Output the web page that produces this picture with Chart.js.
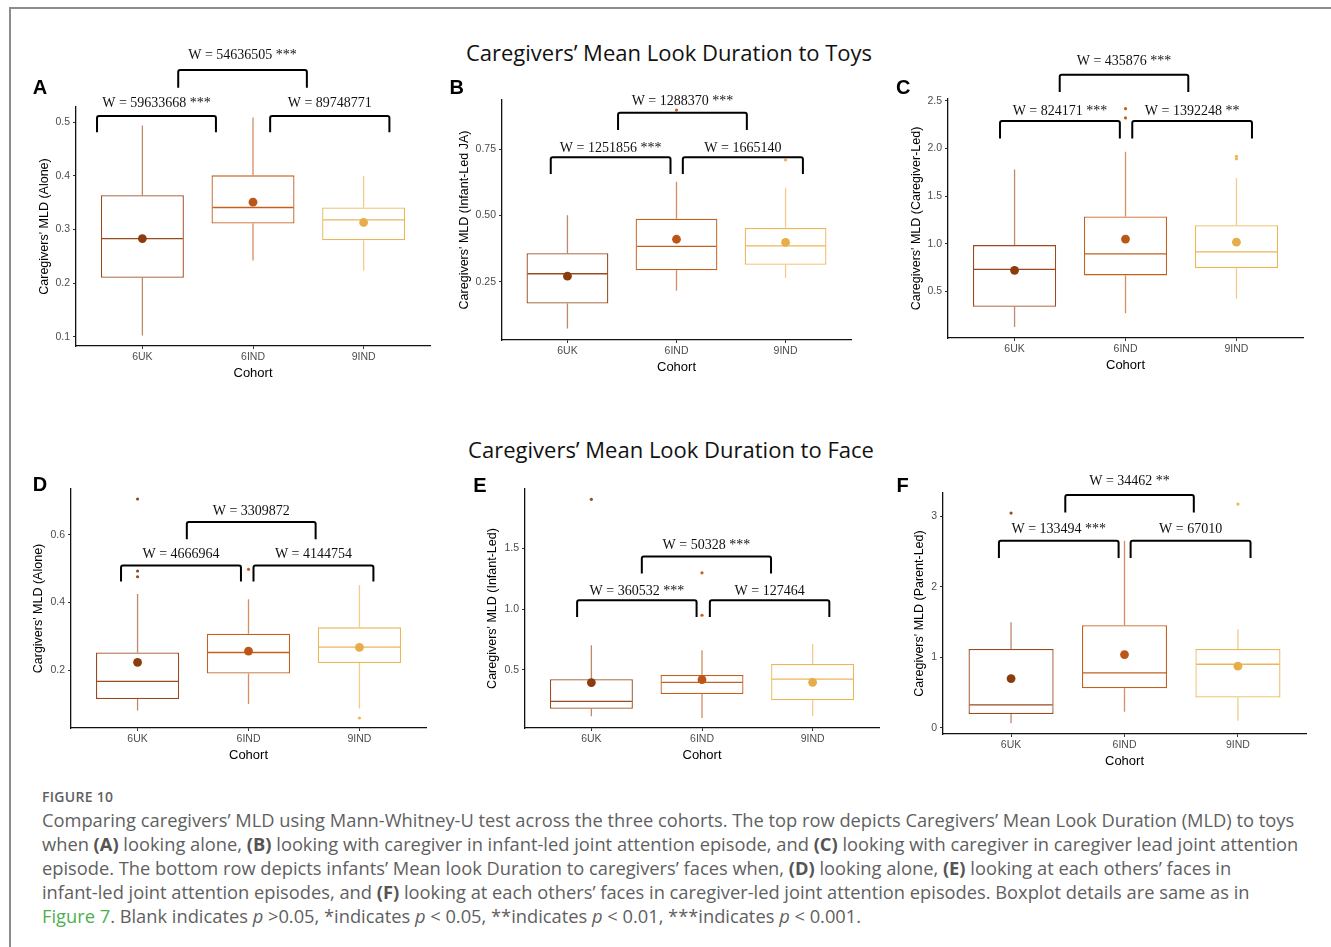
<!DOCTYPE html>
<html>
<head>
<meta charset="utf-8">
<script src="https://cdn.jsdelivr.net/npm/chart.js@4.4.1/dist/chart.umd.min.js"></script>
<style>
  body { margin: 0; width: 1331px; height: 947px; overflow: hidden; position: relative; background: #fff; font-family: "Open Sans", sans-serif; }
  .frame { position: absolute; left: 9px; top: 7px; right: -20px; bottom: -20px; border-left: 2px solid #8c8c8c; border-top: 2px solid #8c8c8c; }
  .panel { position: absolute; }
  .letter { position: absolute; font: bold 20px "Liberation Sans", sans-serif; transform: translate(-50%, -50%); line-height: 1; }
  .rowtitle { position: absolute; font-size: 22px; transform: translate(-50%, -50%); white-space: nowrap; color: #111; line-height: 1; }
  .caption { position: absolute; left: 42px; top: 785px; color: #5f5f5f; white-space: nowrap; }
  .caption .fig { font-size: 14px; font-weight: 600; line-height: 23px; letter-spacing: 0.3px; }
  .caption .line { font-size: 18.3px; line-height: 24px; }
  .caption b { font-weight: 700; color: #555; }
  .caption .link { color: #4caf50; }
</style>
</head>
<body>
<div class="frame"></div>

<div class="rowtitle" style="left:669px;top:52px">Caregivers’ Mean Look Duration to Toys</div>
<div class="rowtitle" style="left:671px;top:449px">Caregivers’ Mean Look Duration to Face</div>

<div class="caption">
  <div class="fig">FIGURE 10</div>
  <div class="line">Comparing caregivers’ MLD using Mann-Whitney-U test across the three cohorts. The top row depicts Caregivers’ Mean Look Duration (MLD) to toys</div>
  <div class="line">when <b>(A)</b> looking alone, <b>(B)</b> looking with caregiver in infant-led joint attention episode, and <b>(C)</b> looking with caregiver in caregiver lead joint attention</div>
  <div class="line">episode. The bottom row depicts infants’ Mean look Duration to caregivers’ faces when, <b>(D)</b> looking alone, <b>(E)</b> looking at each others’ faces in</div>
  <div class="line">infant-led joint attention episodes, and <b>(F)</b> looking at each others’ faces in caregiver-led joint attention episodes. Boxplot details are same as in</div>
  <div class="line"><span class="link">Figure 7</span>. Blank indicates <i>p</i> &gt;0.05, *indicates <i>p</i> &lt; 0.05, **indicates <i>p</i> &lt; 0.01, ***indicates <i>p</i> &lt; 0.001.</div>
</div>

<script>
"use strict";

// data ---------------------------------------------------------------
// panel order: A, B, C, D, E, F ; inner order: 6UK, 6IND, 9IND
const cohorts = ["6UK", "6IND", "9IND"];
const panelLetters = ["A", "B", "C", "D", "E", "F"];

const whiskerLow = [
  [0.102, 0.242, 0.223],
  [0.074, 0.216, 0.264],
  [0.126, 0.269, 0.423],
  [0.082, 0.101, 0.088],
  [0.118, 0.104, 0.12],
  [0.062, 0.228, 0.1],
];
const q1 = [
  [0.21, 0.311, 0.28],
  [0.168, 0.293, 0.314],
  [0.339, 0.668, 0.744],
  [0.116, 0.191, 0.222],
  [0.181, 0.302, 0.25],
  [0.195, 0.56, 0.427],
];
const median = [
  [0.283, 0.341, 0.318],
  [0.28, 0.383, 0.385],
  [0.731, 0.895, 0.916],
  [0.168, 0.253, 0.269],
  [0.241, 0.398, 0.425],
  [0.323, 0.778, 0.901],
];
const q3 = [
  [0.364, 0.401, 0.341],
  [0.357, 0.487, 0.453],
  [0.986, 1.287, 1.195],
  [0.253, 0.308, 0.327],
  [0.423, 0.458, 0.549],
  [1.119, 1.456, 1.119],
];
const whiskerHigh = [
  [0.494, 0.509, 0.4],
  [0.5, 0.627, 0.604],
  [1.78, 1.968, 1.688],
  [0.425, 0.41, 0.452],
  [0.703, 0.662, 0.714],
  [1.498, 2.655, 1.399],
];
const means = [
  [0.283, 0.351, 0.313],
  [0.271, 0.41, 0.398],
  [0.721, 1.049, 1.017],
  [0.224, 0.257, 0.268],
  [0.396, 0.42, 0.398],
  [0.697, 1.038, 0.873],
];
// [cohort index, value]
const outliers = [
  [],
  [[1, 0.897], [2, 0.709]],
  [[1, 2.419], [1, 2.322], [2, 1.919], [2, 1.892]],
  [[0, 0.705], [0, 0.493], [0, 0.476], [1, 0.498], [2, 0.06]],
  [[0, 1.904], [1, 1.299], [1, 0.95]],
  [[0, 3.048], [2, 3.176]],
];
// Mann-Whitney results: 6UK-6IND, 6IND-9IND, 6UK-9IND
const testLabels = [
  ["W = 59633668 ***", "W = 89748771", "W = 54636505 ***"],
  ["W = 1251856 ***", "W = 1665140", "W = 1288370 ***"],
  ["W = 824171 ***", "W = 1392248 **", "W = 435876 ***"],
  ["W = 4666964", "W = 4144754", "W = 3309872"],
  ["W = 360532 ***", "W = 127464", "W = 50328 ***"],
  ["W = 133494 ***", "W = 67010", "W = 34462 **"],
];
const yTitles = [
  "Caregivers' MLD (Alone)",
  "Caregivers' MLD (Infant-Led JA)",
  "Caregivers' MLD (Caregiver-Led)",
  "Cargivers' MLD (Alone)",
  "Caregivers' MLD (Infant-Led)",
  "Caregivers' MLD (Parent-Led)",
];
const yTickValues = [
  [0.1, 0.2, 0.3, 0.4, 0.5],
  [0.25, 0.5, 0.75],
  [0.5, 1, 1.5, 2, 2.5],
  [0.2, 0.4, 0.6],
  [0.5, 1, 1.5],
  [0, 1, 2, 3],
];
const yTickLabels = [
  ["0.1", "0.2", "0.3", "0.4", "0.5"],
  ["0.25", "0.50", "0.75"],
  ["0.5", "1.0", "1.5", "2.0", "2.5"],
  ["0.2", "0.4", "0.6"],
  ["0.5", "1.0", "1.5"],
  ["0", "1", "2", "3"],
];

// layout -------------------------------------------------------------
// plot area in page pixels, y range, distance axis -> y title centre
const frames = [
  { L: 75.7, R: 430, T: 107, B: 346, ymin: 0.0826, ymax: 0.5285, gap: 31.7, lx: 40, ly: 87 },
  { L: 502.3, R: 851, T: 100, B: 340, ymin: 0.0303, ymax: 0.9347, gap: 37.3, lx: 456.7, ly: 87 },
  { L: 947.7, R: 1302.5, T: 99.3, B: 338.7, ymin: 0.0102, ymax: 2.521, gap: 31, lx: 903.3, ly: 87 },
  { L: 71, R: 425.5, T: 489, B: 728.3, ymin: 0.0306, ymax: 0.7344, gap: 32.7, lx: 40, ly: 484 },
  { L: 525.3, R: 879.6, T: 489, B: 727.7, ymin: 0.022, ymax: 1.989, gap: 32, lx: 480, ly: 485 },
  { L: 943, R: 1306, T: 493.3, B: 734, ymin: -0.0896, ymax: 3.333, gap: 23, lx: 902.7, ly: 485 },
];
// brackets: [x from, x to, y top, y leg end, y label] in axis units
const brackets = [
  [[0.59, 1.665, 0.5118, 0.4813, 0.536], [2.155, 3.233, 0.5118, 0.4813, 0.536], [1.324, 2.487, 0.5976, 0.5646, 0.624]],
  [[0.847, 1.945, 0.7187, 0.6558, 0.754], [2.058, 3.159, 0.7187, 0.6558, 0.754], [1.464, 2.645, 0.8868, 0.8216, 0.928]],
  [[0.869, 1.949, 2.29, 2.105, 2.391], [2.061, 3.14, 2.29, 2.105, 2.391], [1.407, 2.566, 2.776, 2.594, 2.912]],
  [[0.851, 1.932, 0.5088, 0.4618, 0.543], [2.045, 3.126, 0.5088, 0.4618, 0.543], [1.444, 2.605, 0.6374, 0.5865, 0.6676]],
  [[0.871, 1.951, 1.074, 0.936, 1.148], [2.071, 3.151, 1.074, 0.936, 1.148], [1.456, 2.624, 1.434, 1.294, 1.527]],
  [[0.893, 1.948, 2.655, 2.409, 2.811], [2.054, 3.111, 2.655, 2.409, 2.811], [1.478, 2.611, 3.304, 3.057, 3.503]],
];

const lineColors = ["#9b4a1e", "#c2601f", "#ebb658"];
const whiskerColors = ["rgba(155,74,30,0.65)", "rgba(194,96,31,0.7)", "rgba(235,182,88,0.7)"];
const meanColors = ["#8b3c0e", "#bd5418", "#e6ad4b"];

const YW = 75; // y axis box width
const PT = 75; // room above plot for brackets
const PR = 6;
const XH = 42; // x axis box height

Chart.defaults.font.family = "Liberation Sans";
Chart.defaults.animation = false;

// boxplot whiskers + medians, drawn right after the boxes
const boxPlugin = {
  id: "boxExtras",
  afterDatasetDraw(chart, args) {
    if (args.index !== 0) return;
    const p = chart.options.plugins.boxExtras.panel;
    const { ctx, scales } = chart;
    const x = scales.x, y = scales.y;
    const half = (x.getPixelForValue(1.375) - x.getPixelForValue(0.625)) / 2;
    ctx.save();
    ctx.lineWidth = 1.3;
    cohorts.forEach((c, k) => {
      const px = x.getPixelForValue(k + 1);
      ctx.strokeStyle = whiskerColors[k];
      ctx.beginPath();
      ctx.moveTo(px, y.getPixelForValue(q3[p][k]));
      ctx.lineTo(px, y.getPixelForValue(whiskerHigh[p][k]));
      ctx.moveTo(px, y.getPixelForValue(q1[p][k]));
      ctx.lineTo(px, y.getPixelForValue(whiskerLow[p][k]));
      ctx.stroke();
      ctx.strokeStyle = lineColors[k];
      ctx.beginPath();
      const my = y.getPixelForValue(median[p][k]);
      ctx.moveTo(px - half + 1, my);
      ctx.lineTo(px + half - 1, my);
      ctx.stroke();
    });
    ctx.restore();
  },
  afterDraw(chart) {
    const p = chart.options.plugins.boxExtras.panel;
    const { ctx, scales } = chart;
    const x = scales.x, y = scales.y;
    ctx.save();
    ctx.strokeStyle = "#000";
    ctx.lineWidth = 2;
    ctx.lineJoin = "round";
    ctx.fillStyle = "#111";
    ctx.font = "14px 'Liberation Serif'";
    ctx.textAlign = "center";
    ctx.textBaseline = "middle";
    brackets[p].forEach((b, j) => {
      const x1 = x.getPixelForValue(b[0]);
      const x2 = x.getPixelForValue(b[1]);
      const yt = y.getPixelForValue(b[2]);
      const yl = y.getPixelForValue(b[3]);
      ctx.beginPath();
      ctx.moveTo(x1, yl);
      ctx.lineTo(x1, yt + 2);
      ctx.quadraticCurveTo(x1, yt, x1 + 2, yt);
      ctx.lineTo(x2 - 2, yt);
      ctx.quadraticCurveTo(x2, yt, x2, yt + 2);
      ctx.lineTo(x2, yl);
      ctx.stroke();
      ctx.fillText(testLabels[p][j], (x1 + x2) / 2, y.getPixelForValue(b[4]));
    });
    ctx.restore();
  },
};

function createPanel(p) {
  const f = frames[p];
  const canvas = document.createElement("canvas");
  const w = Math.round(f.R - f.L + YW + PR);
  const h = Math.round(f.B - f.T + PT + XH);
  canvas.width = w;
  canvas.height = h;
  canvas.className = "panel";
  canvas.style.left = f.L - YW + "px";
  canvas.style.top = f.T - PT + "px";
  document.body.appendChild(canvas);

  const letter = document.createElement("div");
  letter.className = "letter";
  letter.textContent = panelLetters[p];
  letter.style.left = f.lx + "px";
  letter.style.top = f.ly + "px";
  document.body.appendChild(letter);

  const titleSize = 12.5;
  new Chart(canvas, {
    type: "bar",
    data: {
      datasets: [
        {
          type: "bar",
          data: cohorts.map((c, k) => ({ x: k + 1, y: [q1[p][k], q3[p][k]] })),
          backgroundColor: "#ffffff",
          borderColor: lineColors,
          borderWidth: 1.3,
          borderSkipped: false,
          barPercentage: 0.75,
          categoryPercentage: 1,
          order: 3,
        },
        {
          type: "scatter",
          data: outliers[p].map((o) => ({ x: o[0] + 1, y: o[1] })),
          pointBackgroundColor: outliers[p].map((o) => lineColors[o[0]]),
          pointBorderWidth: 0,
          pointRadius: 1.6,
          order: 2,
        },
        {
          type: "scatter",
          data: cohorts.map((c, k) => ({ x: k + 1, y: means[p][k] })),
          pointBackgroundColor: meanColors,
          pointBorderWidth: 0,
          pointRadius: 4.4,
          order: 1,
        },
      ],
    },
    options: {
      responsive: false,
      layout: { padding: { left: 0, top: PT, right: PR, bottom: 0 } },
      scales: {
        x: {
          type: "linear",
          min: 0.4,
          max: 3.6,
          offset: false,
          afterBuildTicks: (s) => {
            s.ticks = cohorts.map((c, k) => ({ value: k + 1 }));
          },
          afterFit: (s) => {
            s.height = XH;
          },
          ticks: {
            callback: (v) => cohorts[v - 1],
            color: "#4d4d4d",
            font: { size: 10.5 },
            padding: 2,
            maxRotation: 0,
            autoSkip: false,
          },
          grid: { offset: false, drawOnChartArea: false, tickLength: 3, color: "#333" },
          border: { color: "#111", width: 1.3 },
          title: {
            display: true,
            text: "Cohort",
            color: "#000",
            font: { size: 13 },
            padding: { top: 0, bottom: 7.2 },
          },
        },
        y: {
          min: f.ymin,
          max: f.ymax,
          afterBuildTicks: (s) => {
            s.ticks = yTickValues[p].map((v) => ({ value: v }));
          },
          afterFit: (s) => {
            s.width = YW;
          },
          ticks: {
            callback: (v) => yTickLabels[p][yTickValues[p].indexOf(v)],
            color: "#4d4d4d",
            font: { size: 10.5 },
            padding: 3,
          },
          grid: { drawOnChartArea: false, tickLength: 3, color: "#333" },
          border: { color: "#111", width: 1.3 },
          title: {
            display: true,
            text: yTitles[p],
            color: "#000",
            font: { size: titleSize },
            padding: { top: YW - f.gap - titleSize * 0.6, bottom: 0 },
          },
        },
      },
      plugins: {
        legend: { display: false },
        tooltip: { enabled: false },
        boxExtras: { panel: p },
      },
    },
    plugins: [boxPlugin],
  });
}

panelLetters.forEach((l, p) => createPanel(p));
</script>
</body>
</html>
